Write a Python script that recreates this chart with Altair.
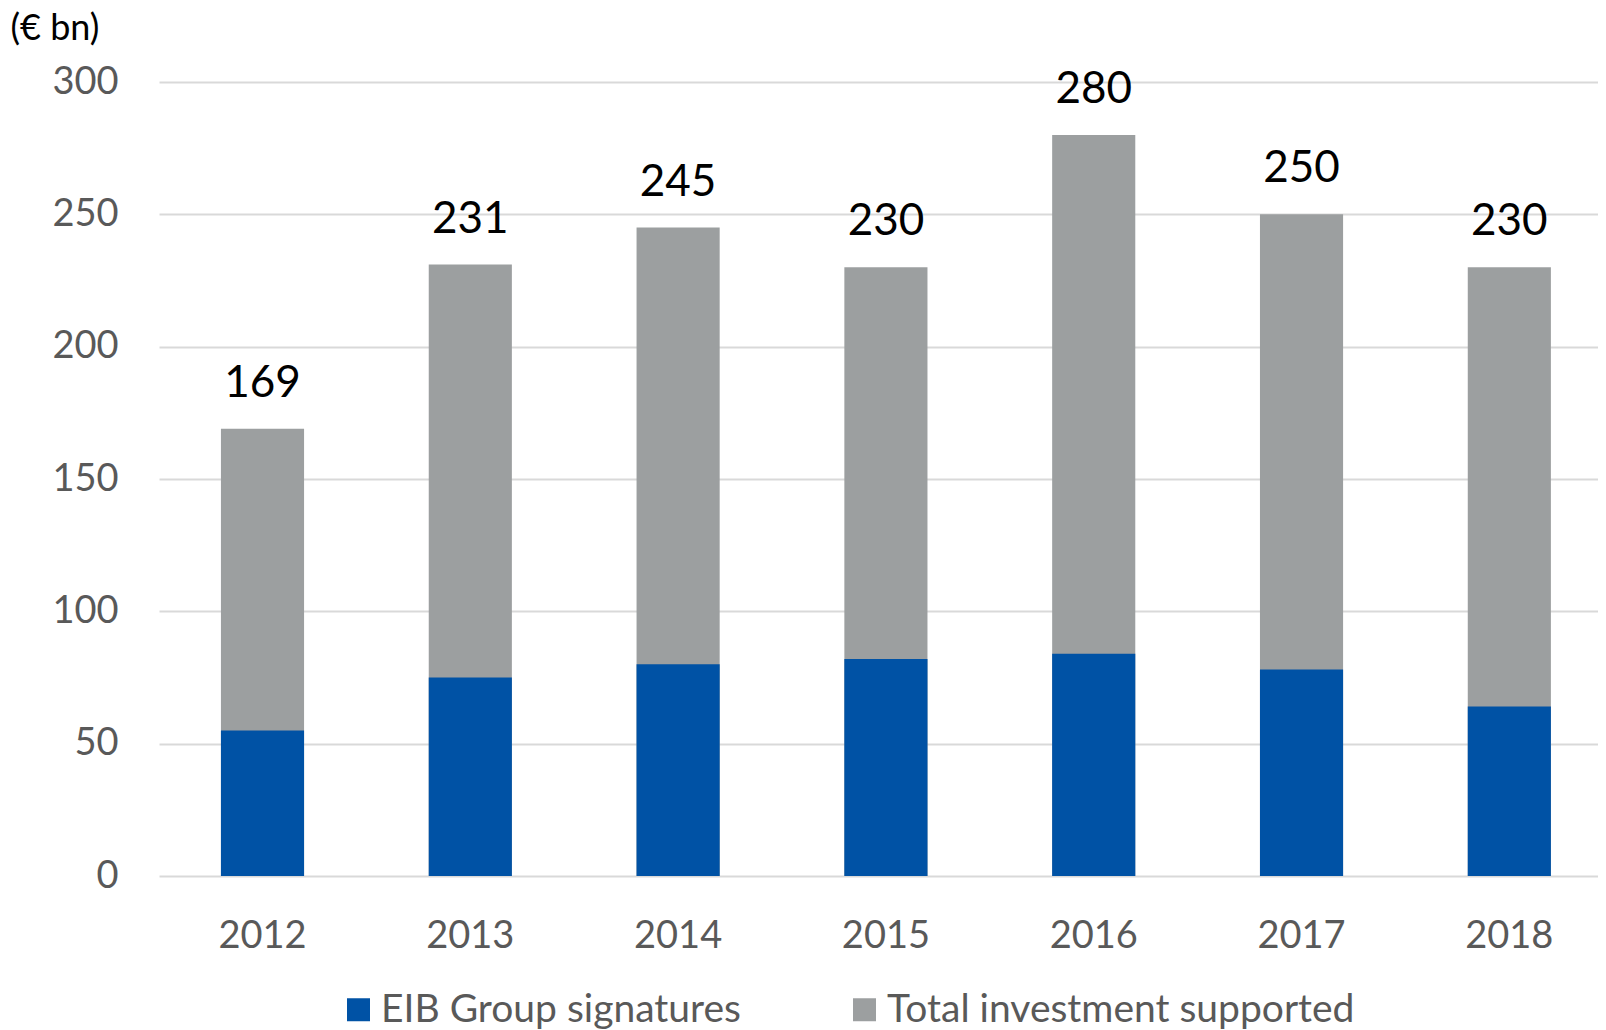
import altair as alt
import pandas as pd

years = ["2012", "2013", "2014", "2015", "2016", "2017", "2018"]
eib_signatures = [55, 75, 80, 82, 84, 78, 64]
total_investment = [169, 231, 245, 230, 280, 250, 230]
series_names = ["EIB Group signatures", "Total investment supported"]
series_colors = ["#0052A5", "#9C9FA0"]
y_ticks = [0, 50, 100, 150, 200, 250, 300]

rows = []
for yr, v in zip(years, total_investment):
    rows.append({"year": yr, "series": series_names[1], "value": v, "draw": 0})
for yr, v in zip(years, eib_signatures):
    rows.append({"year": yr, "series": series_names[0], "value": v, "draw": 1})
df = pd.DataFrame(rows)
totals = pd.DataFrame({"year": years, "total": total_investment})

x_enc = alt.X(
    "year:N", sort=years,
    scale=alt.Scale(paddingInner=0.6, paddingOuter=0.2624, align=0.568),
    axis=alt.Axis(title=None, labelAngle=0, labelFontSize=38, labelColor="#595959",
                  labelPadding=41, ticks=False, domain=False, grid=False),
)

bars = alt.Chart(df).mark_bar().encode(
    x=x_enc,
    y=alt.Y(
        "value:Q", stack=None, scale=alt.Scale(domain=[0, 300], nice=False),
        axis=alt.Axis(values=y_ticks, title="(€ bn)", titleAngle=0, titleAlign="left",
                      titleBaseline="top", titleX=-149, titleY=-71, titleFontSize=36,
                      titleFontWeight="normal", titleColor="#000000",
                      labelFontSize=38, labelColor="#595959", labelPadding=41,
                      ticks=False, domain=False, gridColor="#d9d9d9", gridWidth=2),
    ),
    color=alt.Color(
        "series:N",
        scale=alt.Scale(domain=series_names, range=series_colors),
        legend=alt.Legend(title=None, orient="none", legendX=180, legendY=908,
                          direction="horizontal",
                          symbolType="square", symbolSize=529, symbolStrokeWidth=0,
                          symbolOpacity=1, labelFontSize=39, labelColor="#595959",
                          labelLimit=0, columnPadding=104, labelOffset=3),
    ),
    order=alt.Order("draw:Q"),
)

labels = alt.Chart(totals).mark_text(
    fontSize=44, color="#000000", baseline="alphabetic", dy=-32
).encode(
    x=alt.X("year:N", sort=years),
    y=alt.Y("total:Q"),
    text=alt.Text("total:Q"),
)

chart = alt.layer(bars, labels).properties(
    width=1439, height=794,
    padding={"left": 2, "top": 2, "right": 0, "bottom": 0},
).configure(font="Lato").configure_view(stroke=None)

chart.save("out.html", embed_options={"renderer": "svg", "actions": False})
